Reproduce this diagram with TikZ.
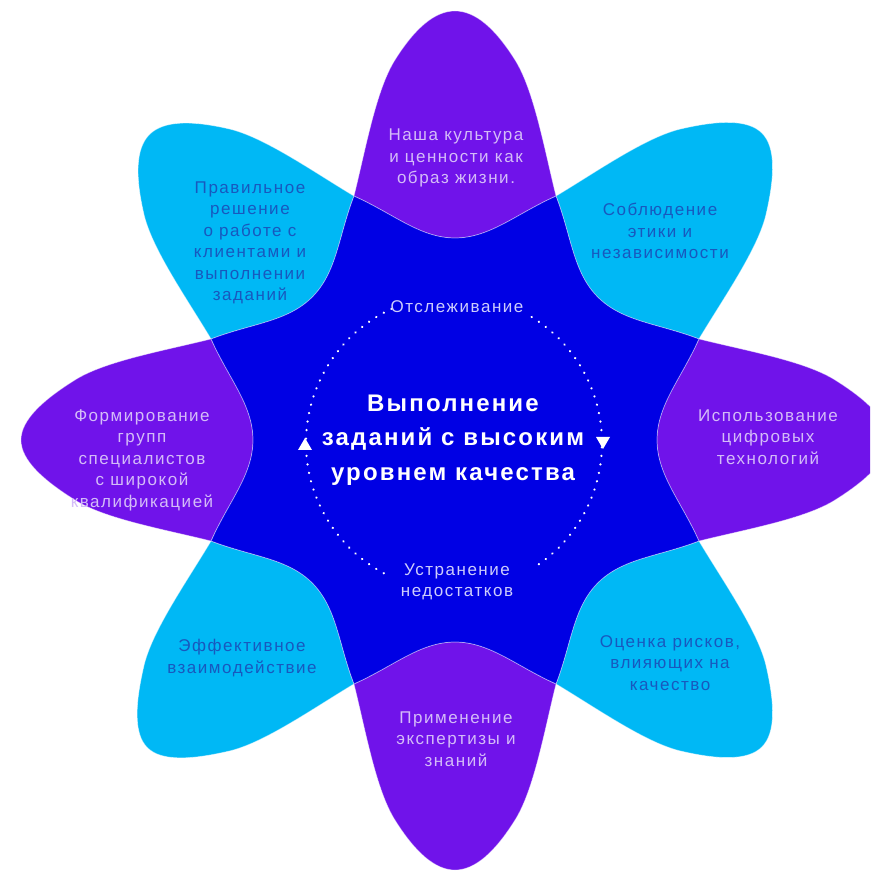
\documentclass[tikz,border=0pt]{standalone}
\usepackage{fontspec}
\setmainfont{Liberation Sans}[LetterSpace=9]
\definecolor{kpurple}{RGB}{112,19,234}
\definecolor{kcyan}{RGB}{0,184,245}
\definecolor{kblue}{RGB}{0,0,228}
\definecolor{oncyan}{RGB}{24,88,190}
\definecolor{onpurple}{RGB}{212,188,248}
\definecolor{onblue}{RGB}{205,205,252}
\begin{document}
\begin{tikzpicture}[x=1pt,y=1pt,
  edgeline/.style={draw=white, draw opacity=0.45, line width=0.7pt},
  lbl/.style={align=center, font=\fontsize{17}{21.5}\selectfont, inner sep=0pt},
  lblp/.style={lbl, text=onpurple},
  lblc/.style={lbl, text=oncyan},
  lbli/.style={lbl, text=onblue},
  titletext/.style={align=center, text=white, inner sep=0pt,
    font=\fontsize{24}{34.5}\selectfont\bfseries},
  dotring/.style={white, line width=2.5pt, line cap=round, dash pattern=on 0.01pt off 8.6pt},
  arrowtri/.style={fill=white}]
\useasboundingbox (-455,-437) rectangle (415,440);
\clip (-455,-437) rectangle (415,440);
% petals
\foreach \a/\c/\t in {90/kpurple/429,45/kcyan/434,0/kpurple/433,-45/kcyan/434,-90/kpurple/430,-135/kcyan/435,180/kpurple/434,135/kcyan/432}
  \path[edgeline, fill=\c, rotate=\a]
    (244,101) .. controls (290,89.5) and (350,79) .. (380,60)
    .. controls (412,40) and (\t,20) .. (\t,0)
    .. controls (\t,-20) and (412,-40) .. (380,-60)
    .. controls (350,-79) and (290,-89.5) .. (244,-101)
    .. controls (226,-61) and (202,-35) .. (202,0)
    .. controls (202,35) and (226,61) .. (244,101) -- cycle;
% central star
\path[edgeline, fill=kblue] (-22.5:264)
  \foreach \a in {0,45,...,315}{
    .. controls ({\a-15.1}:234.1) and ({\a-9.83}:205) .. (\a:202)
    .. controls ({\a+9.83}:205) and ({\a+15.1}:234.1) .. ({\a+22.5}:264)
  } -- cycle;
% dotted cycle
\coordinate (cc) at (-1,-3);
\draw[dotring] (cc) ++(115:148) arc[start angle=115, end angle=244.6, radius=148];
\draw[dotring] (cc) ++(-55:148) arc[start angle=-55, end angle=58.6, radius=148];
\coordinate (tl) at (-150,-5);
\coordinate (tr) at (148,-2);
\fill[arrowtri] (tl) ++(-7,-5) -- ++(14,0) -- ++(-7,12) -- cycle;
\fill[arrowtri] (tr) ++(-7,5) -- ++(14,0) -- ++(-7,-12) -- cycle;
% labels
\node[lblp] (n1) at (1,282) {Наша культура\\и ценности как\\образ жизни.};
\node[lblc] (n2) at (205,209) {Соблюдение\\этики и\\независимости};
\node[lblp] (n3) at (313,3) {Использование\\цифровых\\технологий};
\node[lblc] (n4) at (215,-223) {Оценка рисков,\\влияющих на\\качество};
\node[lblp] (n5) at (1,-299) {Применение\\экспертизы и\\знаний};
\node[lblc] (n6) at (-213,-218) {Эффективное\\взаимодействие};
\node[lblp] (n7) at (-313,-20) {Формирование\\групп\\специалистов\\с широкой\\квалификацией};
\node[lblc] (n8) at (-205,197) {Правильное\\решение\\о работе с\\клиентами и\\выполнении\\заданий};
\node[titletext] (ctr) at (-2,0) {Выполнение\\заданий с высоким\\уровнем качества};
\node[lbli] (t1) at (2,133) {Отслеживание};
\node[lbli] (t2) at (2,-142) {Устранение\\недостатков};
\end{tikzpicture}
\end{document}
